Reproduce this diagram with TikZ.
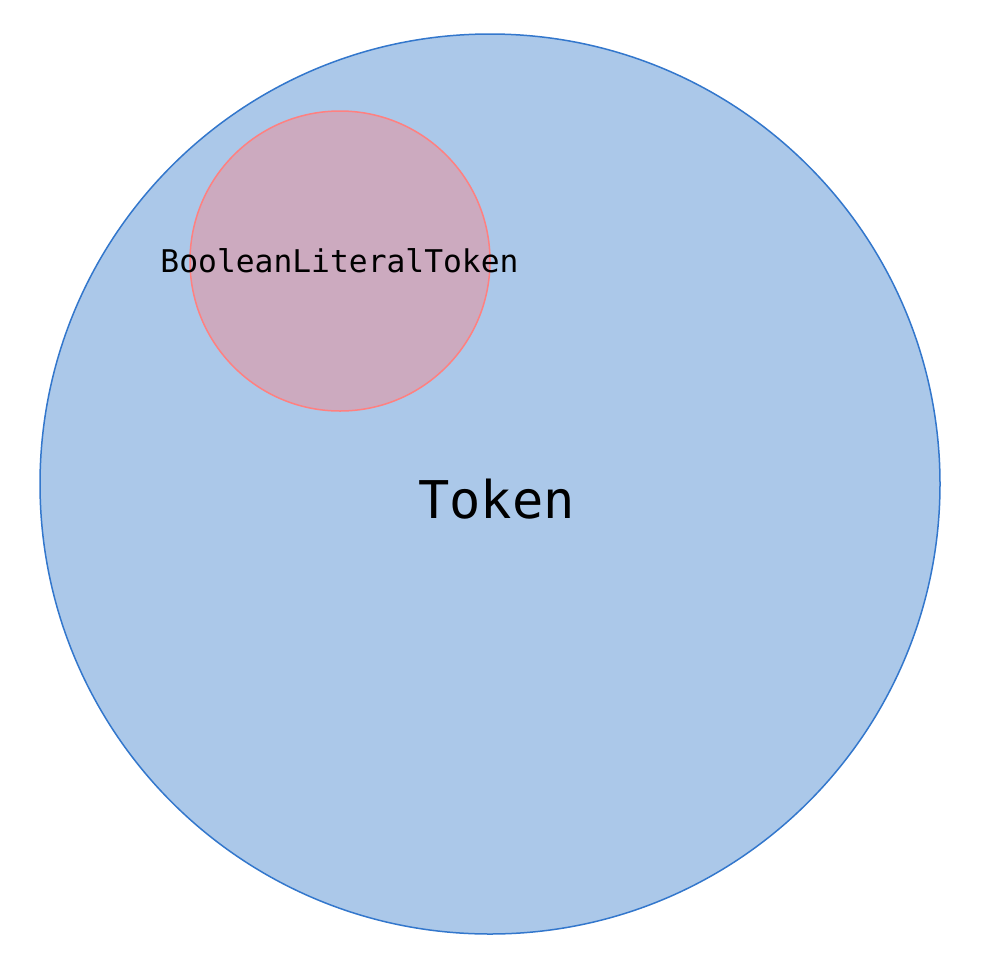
\documentclass[tikz,border=0pt]{standalone}
\usepackage{fontspec}
\setmonofont{DejaVu Sans Mono}
\definecolor{bigfill}{HTML}{ABC8E9}
\definecolor{bigdraw}{HTML}{3377CC}
\definecolor{smallfill}{HTML}{CCAABF}
\definecolor{smalldraw}{HTML}{FF8080}
\tikzset{
  setcircle/.style={circle, inner sep=0pt, line width=1.5pt},
  lbl/.style={font=\ttfamily, inner sep=0pt, anchor=base}
}
\begin{document}
\begin{tikzpicture}[x=1pt,y=-1pt]
\useasboundingbox (0,0) rectangle (987,975);
\node[setcircle, fill=bigfill, draw=bigdraw, minimum size=900pt] (token) at (490,484) {};
\node[setcircle, fill=smallfill, draw=smalldraw, minimum size=300pt] (bool) at (340,261) {};
\node[lbl, font=\ttfamily\fontsize{52}{52}\selectfont] (tokenlbl) at (496.5,518) {Token};
\node[lbl, font=\ttfamily\fontsize{31.3}{31}\selectfont] (boollbl) at (339.5,272) {BooleanLiteralToken};
\end{tikzpicture}
\end{document}
